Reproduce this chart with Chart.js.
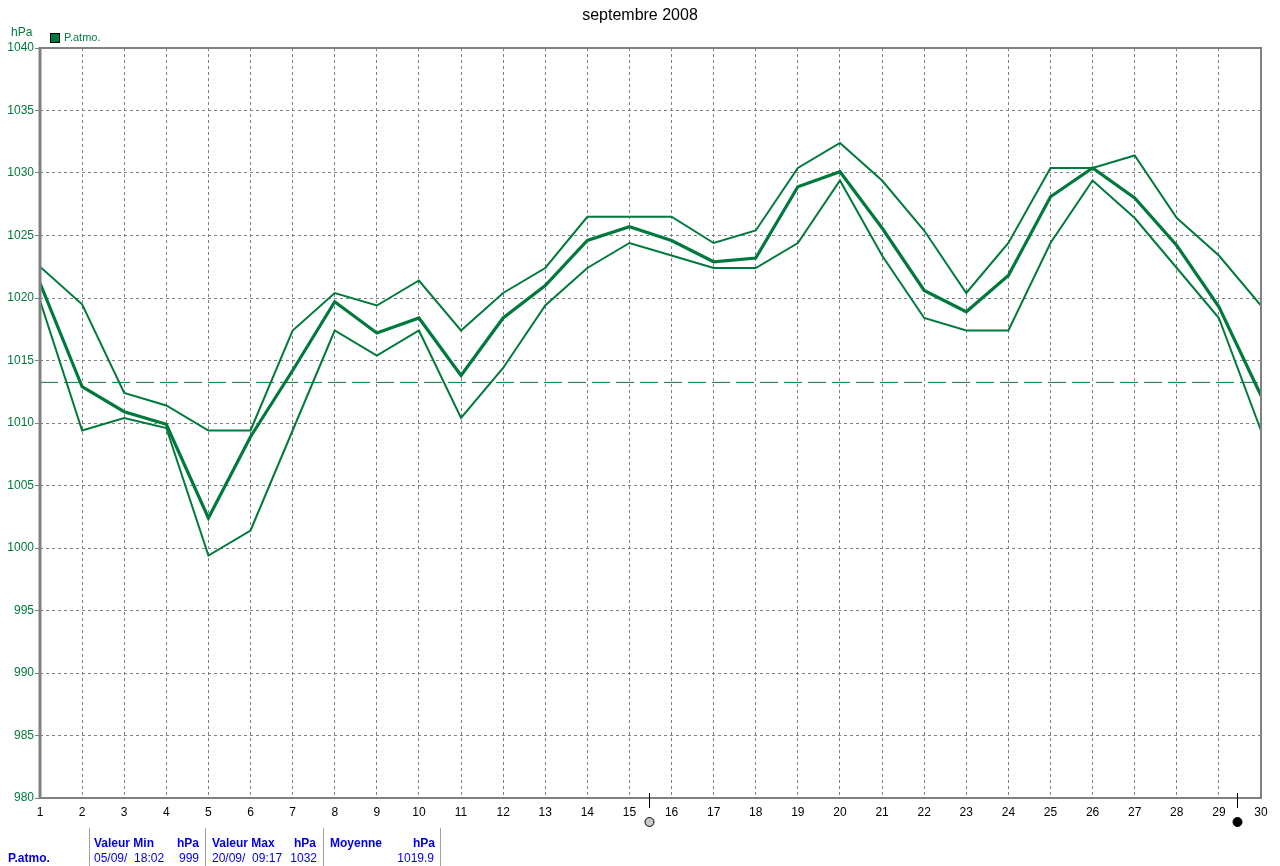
<!DOCTYPE html>
<html>
<head>
<meta charset="utf-8">
<script src="https://cdn.jsdelivr.net/npm/chart.js@4/dist/chart.umd.min.js"></script>
<style>
  html, body { margin:0; padding:0; background:#fff; }
  #wrap { position:relative; width:1280px; height:866px; overflow:hidden; font-family:"Liberation Sans", Arial, sans-serif; }
  canvas { position:absolute; left:0; top:0; }
  .t { position:absolute; white-space:nowrap; }
  .title { left:0; width:1280px; top:6px; text-align:center; font-size:16px; color:#000; }
  .unit { left:11px; top:25px; font-size:12px; color:#007A3C; }
  .leg-box { position:absolute; left:50px; top:33px; width:8px; height:8px; background:#007A3C; border:1px solid #000; }
  .leg { left:64px; top:31px; font-size:11px; color:#007A3C; }
  .tb { font-size:12px; font-weight:bold; color:#0000E0; }
  .tn { font-size:12px; color:#0000E0; }
  .sep { position:absolute; top:828px; width:1px; height:38px; background:#a0a0a0; }
</style>
</head>
<body>
<div id="wrap">
  <canvas id="c" width="1280" height="866"></canvas>
  <div class="t title">septembre 2008</div>
  <div class="t unit">hPa</div>
  <div class="leg-box"></div>
  <div class="t leg">P.atmo.</div>

  <div class="sep" style="left:89px"></div>
  <div class="sep" style="left:205px"></div>
  <div class="sep" style="left:323px"></div>
  <div class="sep" style="left:440px"></div>

  <div class="t tb" style="left:8px;top:851px">P.atmo.</div>
  <div class="t tb" style="left:94px;top:836px">Valeur Min</div>
  <div class="t tb" style="left:177px;top:836px">hPa</div>
  <div class="t tn" style="left:94px;top:851px">05/09/&nbsp; 18:02</div>
  <div class="t tn" style="left:170px;width:29px;text-align:right;top:851px">999</div>
  <div class="t tb" style="left:212px;top:836px">Valeur Max</div>
  <div class="t tb" style="left:294px;top:836px">hPa</div>
  <div class="t tn" style="left:212px;top:851px">20/09/&nbsp; 09:17</div>
  <div class="t tn" style="left:280px;width:37px;text-align:right;top:851px">1032</div>
  <div class="t tb" style="left:330px;top:836px">Moyenne</div>
  <div class="t tb" style="left:413px;top:836px">hPa</div>
  <div class="t tn" style="left:380px;width:54px;text-align:right;top:851px">1019.9</div>
</div>
<script>
// ---- DATA ----
const days = [1,2,3,4,5,6,7,8,9,10,11,12,13,14,15,16,17,18,19,20,21,22,23,24,25,26,27,28,29,30];
const pMax = [1022.5,1019.5,1012.4,1011.4,1009.4,1009.4,1017.4,1020.4,1019.4,1021.4,1017.4,1020.4,1022.4,1026.5,1026.5,1026.5,1024.4,1025.4,1030.4,1032.4,1029.4,1025.4,1020.4,1024.4,1030.4,1030.4,1031.4,1026.4,1023.4,1019.4];
const pMean = [1021.2,1012.9,1010.9,1009.9,1002.4,1008.9,1014.2,1019.7,1017.2,1018.4,1013.8,1018.4,1021.0,1024.6,1025.7,1024.6,1022.9,1023.2,1028.9,1030.1,1025.6,1020.6,1018.9,1021.8,1028.1,1030.4,1028.0,1024.2,1019.3,1012.2];
const pMin = [1019.8,1009.4,1010.4,1009.6,999.4,1001.4,1009.4,1017.4,1015.4,1017.4,1010.4,1014.4,1019.4,1022.4,1024.4,1023.4,1022.4,1022.4,1024.4,1029.4,1023.4,1018.4,1017.4,1017.4,1024.4,1029.4,1026.4,1022.4,1018.4,1009.4];
const refPressure = 1013.25;
const yTicks = [980,985,990,995,1000,1005,1010,1015,1020,1025,1030,1035,1040];
const moonPhases = [{day:15.47, type:'full'}, {day:29.43, type:'new'}];

const GREEN = '#007A3C';
const GRAY = '#808080';
const pts = arr => days.map((d,i)=>({x:d, y:arr[i]}));

const framePlugin = {
  id:'frame',
  afterDraw(chart){
    const {ctx, chartArea:a, scales} = chart;
    ctx.save();
    ctx.strokeStyle = GRAY;
    ctx.lineWidth = 2;
    ctx.strokeRect(a.left, a.top, a.right-a.left, a.bottom-a.top);
    ctx.lineWidth = 3;
    ctx.beginPath(); ctx.moveTo(a.left, a.top-1); ctx.lineTo(a.left, a.bottom+1); ctx.stroke();
    moonPhases.forEach(m=>{
      const x = Math.round(scales.x.getPixelForValue(m.day))+0.5;
      ctx.strokeStyle = '#000'; ctx.lineWidth = 1;
      ctx.beginPath(); ctx.moveTo(x, a.bottom-5); ctx.lineTo(x, a.bottom+10); ctx.stroke();
      ctx.beginPath(); ctx.arc(x, a.bottom+24, 4.5, 0, Math.PI*2);
      ctx.fillStyle = m.type==='new' ? '#000' : '#c8c8c8';
      ctx.fill(); ctx.stroke();
    });
    ctx.restore();
  }
};

new Chart(document.getElementById('c'), {
  type:'line',
  data:{
    datasets:[
      {label:'max', data:pts(pMax), borderColor:GREEN, borderWidth:2, pointRadius:0, tension:0},
      {label:'mean', data:pts(pMean), borderColor:GREEN, borderWidth:3.2, pointRadius:0, tension:0},
      {label:'min', data:pts(pMin), borderColor:GREEN, borderWidth:2, pointRadius:0, tension:0},
      {label:'ref', data:[{x:days[0], y:refPressure},{x:days[days.length-1], y:refPressure}], borderColor:GREEN, borderWidth:1, borderDash:[18,6], pointRadius:0}
    ]
  },
  options:{
    responsive:false, animation:false, devicePixelRatio:1,
    layout:{padding:{left:0, top:48, right:19, bottom:0}},
    plugins:{legend:{display:false}, title:{display:false}, tooltip:{enabled:false}},
    scales:{
      x:{
        type:'linear', min:1, max:30,
        afterFit: s => { s.height = 68; },
        afterBuildTicks: s => { s.ticks = days.map(v=>({value:v})); },
        grid:{color:GRAY, lineWidth:1, drawTicks:false},
        border:{display:false, dash:[3,3]},
        ticks:{color:'#000', padding:7, maxRotation:0, autoSkip:false, callback:v=>String(v), font:{family:'"Liberation Sans", Arial, sans-serif', size:12}}
      },
      y:{
        min:980, max:1040,
        afterFit: s => { s.width = 40; },
        afterBuildTicks: s => { s.ticks = yTicks.map(v=>({value:v})); },
        grid:{color:GRAY, lineWidth:1, drawTicks:true, tickLength:5, tickColor:GRAY, tickBorderDash:[]},
        border:{display:false, dash:[3,3]},
        ticks:{color:GREEN, padding:1, callback:v=>String(v), font:{family:'"Liberation Sans", Arial, sans-serif', size:12}}
      }
    }
  },
  plugins:[framePlugin]
});
</script>
</body>
</html>
